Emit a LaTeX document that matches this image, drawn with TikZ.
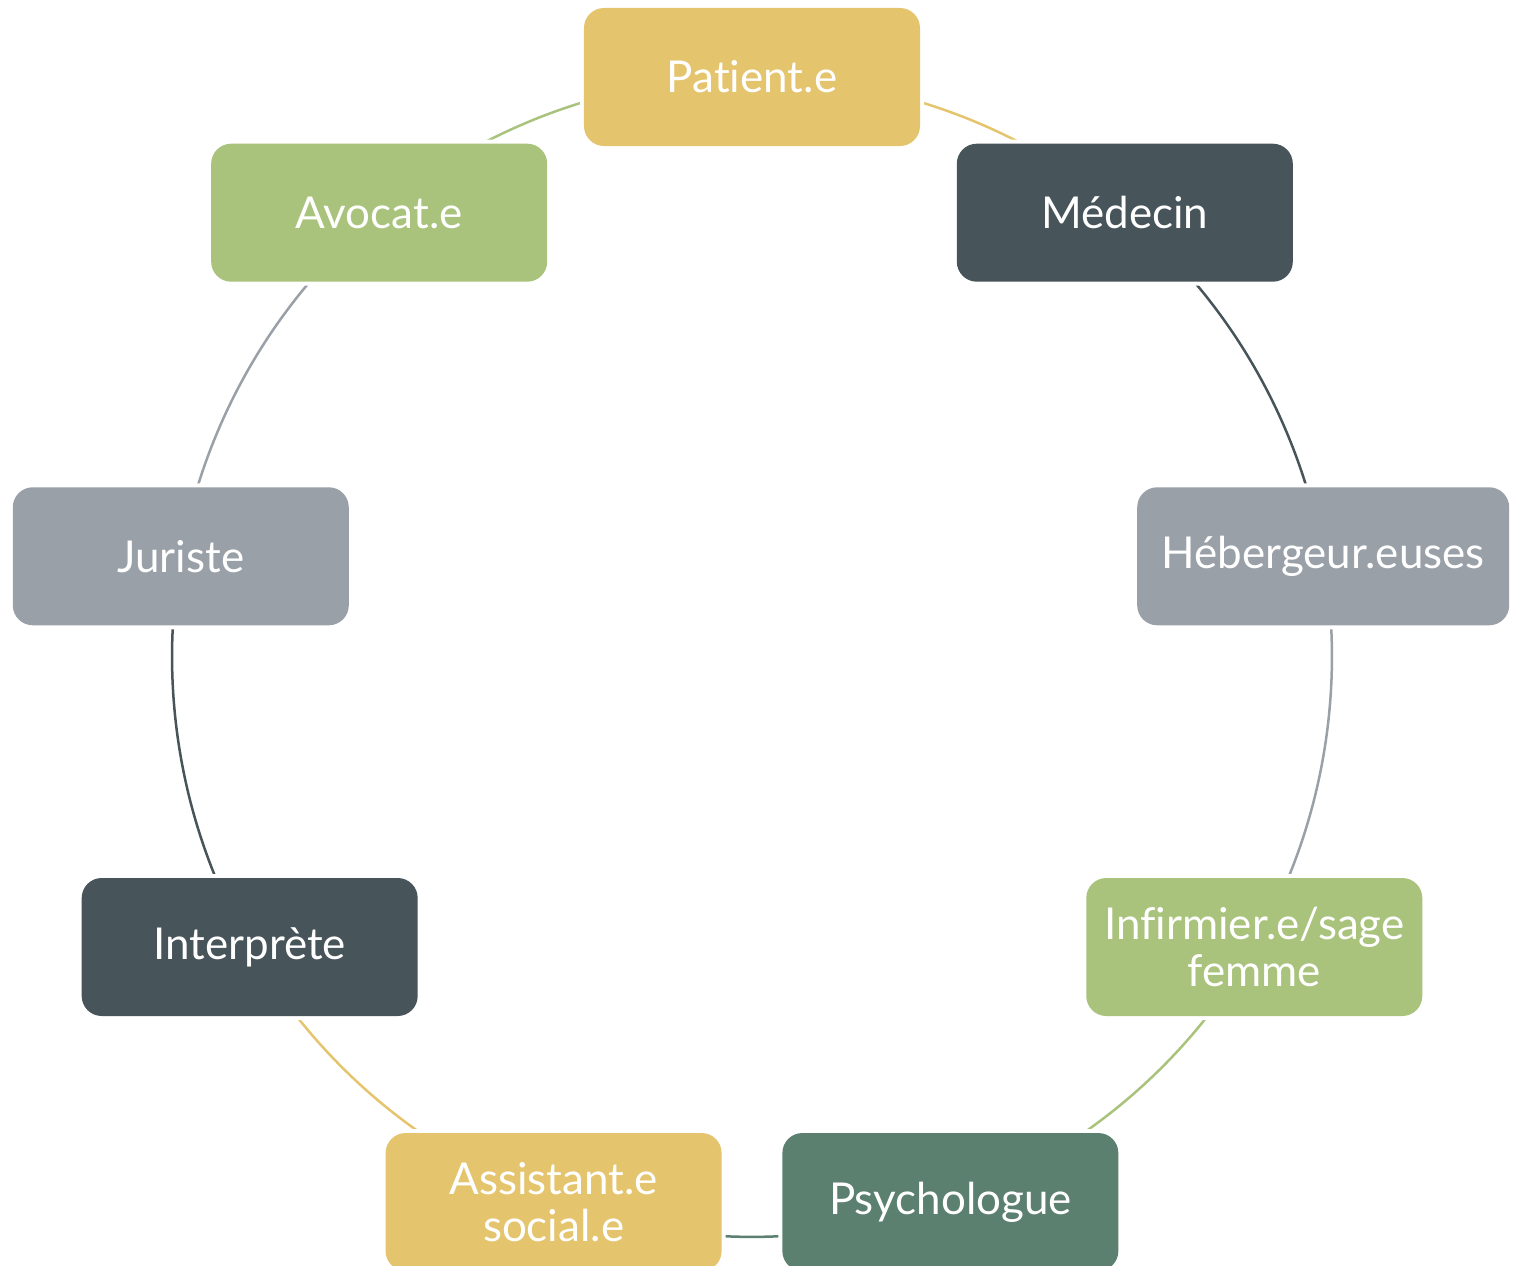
\documentclass[tikz,border=0pt]{standalone}
\usepackage{fontspec}
\setmainfont{Lato}[Ligatures=NoCommon]
\usepackage{xcolor}
\usetikzlibrary{backgrounds}

\definecolor{sand}{HTML}{E5C46E}
\definecolor{slate}{HTML}{475459}
\definecolor{steel}{HTML}{99A0A8}
\definecolor{sage}{HTML}{A9C37C}
\definecolor{pine}{HTML}{5C8070}

\begin{document}
\begin{tikzpicture}[
  font=\fontsize{25}{27}\selectfont,
  role/.style={rounded corners=0.4cm, align=center, text=white, inner sep=2pt,
    minimum width=6.72cm, minimum height=2.76cm,
    preaction={draw=white, line width=0.16cm}},
  link/.style={line width=0.05cm, bend left=20, looseness=0.878},
]
\useasboundingbox (-15.04,-12.16) rectangle (15.44,13.14);

% nine roles round one circle, 40 degrees apart
\node[role, fill=sand]  (pat) at (90:11.6)   {Patient.e};
\node[role, fill=slate] (med) at (50:11.6)   {Médecin};
\node[role, fill=steel, minimum width=7.44cm] (heb) at (10:11.6) {Hébergeur.euses};
\node[role, fill=sage]  (inf) at (-30:11.6)  {Infirmier.e/sage\\femme};
\node[role, fill=pine]  (psy) at (-70:11.6)  {Psychologue};
\node[role, fill=sand]  (ass) at (-110:11.6) {Assistant.e\\social.e};
\node[role, fill=slate] (int) at (-150:11.6) {Interprète};
\node[role, fill=steel] (jur) at (170:11.6)  {Juriste};
\node[role, fill=sage]  (avo) at (130:11.6)  {Avocat.e};

\begin{pgfonlayer}{background}
\draw[link, sand]  (pat.center) to (med.center);
\draw[link, slate] (med.center) to (heb.center);
\draw[link, steel] (heb.center) to (inf.center);
\draw[link, sage]  (inf.center) to (psy.center);
\draw[link, pine]  (psy.center) to (ass.center);
\draw[link, sand]  (ass.center) to (int.center);
\draw[link, slate] (int.center) to (jur.center);
\draw[link, steel] (jur.center) to (avo.center);
\draw[link, sage]  (avo.center) to (pat.center);
\end{pgfonlayer}
\end{tikzpicture}
\end{document}
